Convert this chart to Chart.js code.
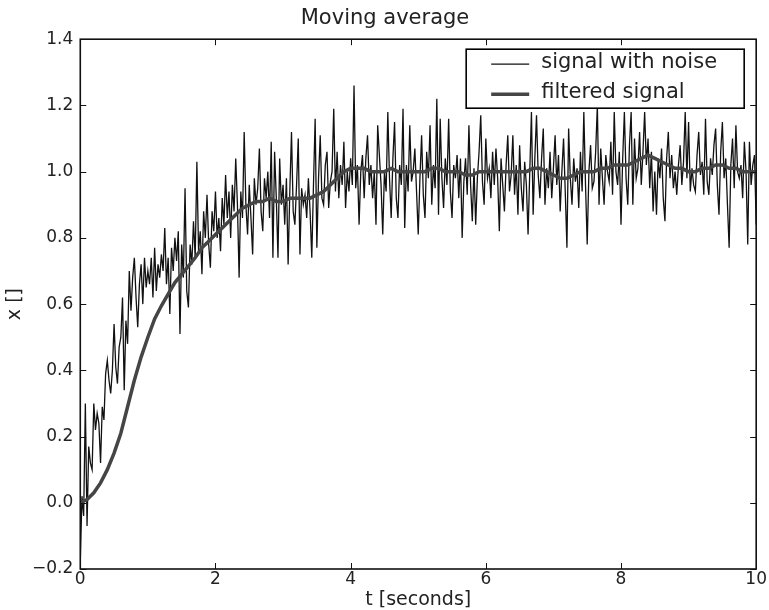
<!DOCTYPE html>
<html>
<head>
<meta charset="utf-8">
<script src="https://cdn.jsdelivr.net/npm/chart.js@4.4.1/dist/chart.umd.min.js"></script>
<style>
  html, body { margin: 0; padding: 0; background: #fff; }
  #wrap { width: 769px; height: 610px; }
</style>
</head>
<body>
<div id="wrap"><canvas id="chart" width="769" height="610"></canvas></div>
<script>
// sample step of the noisy signal (s) and of the filtered curve (s)
const noisyStep = 0.025;
const filteredStep = 0.1;

// signal with noise, one row per 0.5 s
const noisyValues = [
  -0.18, 0.02, -0.04, 0.30, -0.07, 0.17, 0.12, 0.10, 0.30, 0.22, 0.27, 0.24, 0.12, 0.29, 0.25, 0.39, 0.43, 0.37, 0.33, 0.40,
  0.54, 0.41, 0.36, 0.47, 0.50, 0.62, 0.34, 0.55, 0.48, 0.70, 0.58, 0.68, 0.74, 0.62, 0.53, 0.66, 0.72, 0.60, 0.74, 0.65,
  0.70, 0.66, 0.74, 0.62, 0.77, 0.64, 0.72, 0.68, 0.75, 0.70, 0.83, 0.66, 0.74, 0.57, 0.77, 0.70, 0.80, 0.73, 0.82, 0.51,
  0.78, 0.68, 0.95, 0.64, 0.59, 0.78, 0.72, 0.85, 0.74, 1.03, 0.76, 0.82, 0.69, 0.88, 0.80, 0.93, 0.78, 0.71, 0.88, 0.82,
  0.94, 0.80, 0.86, 0.76, 0.92, 0.84, 0.99, 0.86, 0.94, 0.80, 0.96, 0.88, 1.04, 0.90, 0.68, 0.94, 0.86, 1.12, 0.90, 0.81,
  0.96, 0.86, 0.75, 0.98, 0.90, 0.95, 1.07, 0.88, 0.82, 0.98, 0.92, 1.00, 0.86, 1.09, 0.74, 1.06, 0.92, 0.74, 1.04, 0.90,
  0.96, 0.84, 0.98, 0.72, 0.94, 1.12, 0.88, 0.84, 0.96, 1.10, 0.75, 0.95, 0.90, 0.93, 0.86, 0.98, 0.88, 0.74, 0.96, 1.16,
  0.77, 0.98, 1.11, 0.92, 0.90, 1.02, 1.06, 0.89, 0.97, 1.00, 1.19, 0.94, 1.06, 0.92, 1.02, 0.96, 1.09, 0.89, 1.00, 0.94,
  1.04, 0.96, 1.26, 0.95, 1.02, 0.84, 1.00, 1.05, 0.92, 1.04, 1.11, 0.96, 1.02, 0.92, 1.00, 0.84, 1.14, 1.05, 0.96, 0.81,
  1.00, 0.94, 1.18, 0.98, 0.86, 1.04, 1.15, 0.92, 0.86, 1.02, 0.96, 1.19, 0.83, 1.02, 0.94, 1.14, 0.97, 1.00, 1.07, 0.94,
  0.81, 0.98, 1.11, 0.93, 0.86, 1.06, 0.98, 1.14, 0.90, 1.02, 0.95, 1.22, 0.87, 1.16, 0.98, 0.89, 1.04, 0.96, 1.16, 0.94,
  0.86, 1.02, 0.98, 1.05, 0.92, 1.04, 0.80, 0.97, 1.04, 0.93, 1.14, 0.96, 0.85, 1.01, 0.84, 0.98, 1.06, 1.17, 0.97, 0.90,
  1.10, 0.98, 1.01, 0.92, 1.06, 0.96, 1.07, 0.98, 0.82, 1.04, 0.96, 0.88, 1.02, 1.11, 0.94, 0.99, 1.11, 0.93, 1.02, 0.87,
  1.08, 0.95, 0.88, 1.03, 0.96, 0.81, 1.00, 1.18, 0.87, 1.04, 1.17, 0.99, 0.92, 1.04, 1.13, 0.90, 1.01, 0.95, 1.06, 0.92,
  1.01, 1.11, 0.96, 1.05, 0.88, 1.00, 1.10, 0.94, 0.77, 1.13, 0.98, 0.90, 1.04, 0.97, 1.01, 0.89, 1.06, 0.94, 1.18, 0.96,
  0.78, 1.00, 1.08, 0.95, 0.97, 1.06, 1.20, 0.90, 1.07, 0.98, 0.90, 1.05, 1.00, 0.97, 1.09, 0.93, 1.18, 1.00, 0.96, 1.06,
  0.84, 1.04, 1.18, 0.98, 0.90, 1.08, 1.18, 0.90, 1.10, 0.98, 1.01, 1.12, 0.96, 1.06, 1.18, 1.02, 1.10, 0.95, 1.06, 0.88,
  1.00, 0.87, 1.04, 0.98, 1.07, 0.92, 0.85, 1.04, 1.12, 0.98, 1.05, 0.95, 1.00, 0.93, 1.02, 1.08, 0.96, 1.03, 1.18, 0.98,
  1.15, 0.94, 1.01, 0.96, 0.94, 1.05, 1.12, 0.99, 1.03, 0.93, 1.16, 0.97, 0.93, 1.04, 0.99, 1.08, 1.13, 0.96, 0.87, 1.06,
  1.15, 0.98, 1.04, 0.90, 0.77, 1.02, 1.10, 0.95, 1.14, 1.00, 0.98, 1.02, 0.92, 1.09, 1.00, 0.78, 1.09, 0.96, 1.02, 1.05,
  0.84
];

// moving average curve, one value every 0.1 s
const filteredValues = [
  0.00, 0.01, 0.03, 0.06, 0.10, 0.15, 0.21, 0.29, 0.37, 0.44,
  0.50, 0.555, 0.595, 0.63, 0.665, 0.69, 0.715, 0.74, 0.77, 0.79,
  0.81, 0.83, 0.85, 0.87, 0.89, 0.90, 0.91, 0.91, 0.92, 0.91,
  0.91, 0.92, 0.92, 0.92, 0.92, 0.93, 0.94, 0.96, 0.98, 1.00,
  1.01, 1.01, 1.01, 1.00, 1.00, 1.00, 1.01, 1.00, 1.00, 1.00,
  1.00, 1.00, 1.01, 1.01, 1.00, 1.00, 1.00, 0.99, 0.99, 1.00,
  1.00, 1.00, 1.00, 1.00, 1.00, 1.00, 1.00, 1.01, 1.01, 1.00,
  0.99, 0.98, 0.98, 0.99, 1.00, 1.00, 1.00, 1.01, 1.01, 1.02,
  1.02, 1.02, 1.03, 1.04, 1.05, 1.04, 1.03, 1.02, 1.01, 1.01,
  1.00, 1.00, 1.01, 1.01, 1.02, 1.02, 1.01, 1.01, 1.00, 1.00,
  1.00
];

const xTicks = [0, 2, 4, 6, 8, 10];
const yTicks = [-0.2, 0, 0.2, 0.4, 0.6, 0.8, 1.0, 1.2, 1.4];
const seriesLabels = ['signal with noise', 'filtered signal'];

const FONT = "'DejaVu Sans', 'Bitstream Vera Sans', sans-serif";
const fmtY = v => (v < -1e-9 ? '\u2212' : '') + Math.abs(v).toFixed(1);
const fmtX = v => String(Math.round(v));

const noisyPts = noisyValues.map((v, i) => ({ x: +(i * noisyStep).toFixed(3), y: v }));
const filteredPts = filteredValues.map((v, i) => ({ x: +(i * filteredStep).toFixed(2), y: v }));

// matplotlib-like frame with inward ticks on all four sides
const frameTicks = {
  id: 'frameTicks',
  afterDatasetsDraw(chart) {
    const { ctx, chartArea: a, scales } = chart;
    const seg = (x1, y1, x2, y2) => { ctx.beginPath(); ctx.moveTo(x1, y1); ctx.lineTo(x2, y2); ctx.stroke(); };
    ctx.save();
    ctx.strokeStyle = '#111';
    ctx.lineWidth = 1;
    xTicks.forEach(t => {
      const px = Math.round(scales.x.getPixelForValue(t)) + 0.5;
      seg(px, a.bottom, px, a.bottom - 6);
      seg(px, a.top, px, a.top + 6);
    });
    yTicks.forEach(t => {
      const py = Math.round(scales.y.getPixelForValue(t)) + 0.5;
      seg(a.left, py, a.left + 6, py);
      seg(a.right, py, a.right - 6, py);
    });
    ctx.lineWidth = 1.6;
    ctx.strokeRect(a.left, a.top, a.right - a.left, a.bottom - a.top);
    ctx.restore();
  }
};

// legend box in the upper right corner of the plot
const boxLegend = {
  id: 'boxLegend',
  afterDraw(chart) {
    const { ctx, chartArea: a } = chart;
    const w = 278, h = 59;
    const bx = a.right - 12 - w, by = a.top + 10;
    ctx.save();
    ctx.fillStyle = '#fff';
    ctx.fillRect(bx, by, w, h);
    ctx.strokeStyle = '#000';
    ctx.lineWidth = 1.6;
    ctx.strokeRect(bx, by, w, h);
    ctx.font = '21px ' + FONT;
    ctx.textBaseline = 'middle';
    ctx.fillStyle = '#222';
    const rows = [chart.data.datasets[1], chart.data.datasets[0]];
    rows.forEach((ds, i) => {
      const cy = by + 15 + i * 30;
      ctx.strokeStyle = ds.borderColor;
      ctx.lineWidth = ds.borderWidth;
      ctx.beginPath(); ctx.moveTo(bx + 25, cy); ctx.lineTo(bx + 63, cy); ctx.stroke();
      ctx.fillText(ds.label, bx + 75, cy - 2);
    });
    ctx.restore();
  }
};

new Chart(document.getElementById('chart').getContext('2d'), {
  type: 'line',
  data: {
    datasets: [
      { label: seriesLabels[1], data: filteredPts, borderColor: '#454545', borderWidth: 3.5, pointRadius: 0, tension: 0, order: 0 },
      { label: seriesLabels[0], data: noisyPts, borderColor: '#111', borderWidth: 1.3, pointRadius: 0, tension: 0, order: 1 }
    ]
  },
  options: {
    responsive: false,
    animation: false,
    layout: { padding: { top: 6, right: 5, bottom: 0, left: 6 } },
    plugins: {
      legend: { display: false },
      tooltip: { enabled: false },
      title: {
        display: true, text: 'Moving average', color: '#222',
        font: { family: FONT, size: 21, weight: 'normal' },
        padding: { top: 0, bottom: 8 }
      }
    },
    scales: {
      x: {
        type: 'linear', min: 0, max: 10,
        grid: { display: false, drawTicks: false },
        border: { display: false },
        afterBuildTicks: s => { s.ticks = xTicks.map(v => ({ value: v })); },
        ticks: { color: '#222', font: { family: FONT, size: 17, lineHeight: 1 }, padding: 2, maxRotation: 0, callback: v => fmtX(v) },
        title: { display: true, text: 't [seconds]', color: '#222', font: { family: FONT, size: 19, lineHeight: 1 }, padding: { top: 1, bottom: 0 } }
      },
      y: {
        type: 'linear', min: -0.2, max: 1.4,
        grid: { display: false, drawTicks: false },
        border: { display: false },
        afterBuildTicks: s => { s.ticks = yTicks.map(v => ({ value: v })); },
        ticks: { color: '#222', font: { family: FONT, size: 17 }, padding: 7, callback: v => fmtY(v) },
        title: { display: true, text: 'x []', color: '#222', font: { family: FONT, size: 19, lineHeight: 1 }, padding: { top: 0, bottom: 0 } }
      }
    }
  },
  plugins: [frameTicks, boxLegend]
});
</script>
</body>
</html>
